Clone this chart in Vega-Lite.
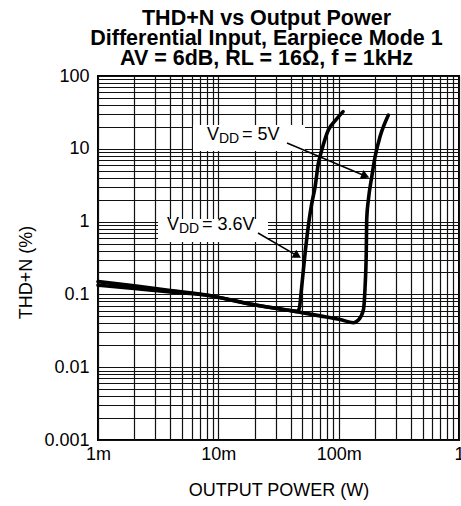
{
  "$schema": "https://vega.github.io/schema/vega-lite/v6.json",
  "width": 361,
  "height": 364,
  "autosize": {"type": "none"},
  "padding": {"left": 98, "top": 76, "right": 2, "bottom": 66},
  "background": "white",
  "title": {
    "text": ["THD+N vs Output Power", "Differential Input, Earpiece Mode 1", "AV = 6dB, RL = 16Ω, f = 1kHz"],
    "font": "Liberation Sans",
    "fontSize": 21.5,
    "fontWeight": "bold",
    "lineHeight": 20,
    "color": "black",
    "anchor": "middle",
    "frame": "group",
    "dx": -12,
    "offset": -2
  },
  "config": {
    "view": {"stroke": "black", "strokeWidth": 2},
    "axis": {
      "labelFont": "Liberation Sans",
      "titleFont": "Liberation Sans",
      "labelFontSize": 18,
      "titleFontSize": 18,
      "titleFontWeight": "normal",
      "labelColor": "black",
      "titleColor": "black",
      "ticks": false,
      "domain": false,
      "grid": true,
      "gridColor": "#111111",
      "gridWidth": 1.2,
      "gridOpacity": 1,
      "labelOverlap": false,
      "labelBound": false,
      "labelFlush": false
    }
  },
  "datasets": {
    "curves": [
      {"series": "3.6V", "ord": 1, "p": 0.001, "thd": 0.134},
      {"series": "3.6V", "ord": 2, "p": 0.002, "thd": 0.121},
      {"series": "3.6V", "ord": 3, "p": 0.004, "thd": 0.108},
      {"series": "3.6V", "ord": 4, "p": 0.00774, "thd": 0.098},
      {"series": "3.6V", "ord": 5, "p": 0.0183, "thd": 0.074},
      {"series": "3.6V", "ord": 6, "p": 0.0395, "thd": 0.060},
      {"series": "3.6V", "ord": 7, "p": 0.0455, "thd": 0.0585},
      {"series": "3.6V", "ord": 8, "p": 0.0471, "thd": 0.0644},
      {"series": "3.6V", "ord": 9, "p": 0.0493, "thd": 0.128},
      {"series": "3.6V", "ord": 10, "p": 0.0526, "thd": 0.367},
      {"series": "3.6V", "ord": 11, "p": 0.0571, "thd": 1.11},
      {"series": "3.6V", "ord": 12, "p": 0.0598, "thd": 1.78},
      {"series": "3.6V", "ord": 13, "p": 0.0637, "thd": 3.0},
      {"series": "3.6V", "ord": 14, "p": 0.0678, "thd": 6.3},
      {"series": "3.6V", "ord": 15, "p": 0.0724, "thd": 9.6},
      {"series": "3.6V", "ord": 16, "p": 0.0821, "thd": 18.1},
      {"series": "3.6V", "ord": 17, "p": 0.094, "thd": 24.5},
      {"series": "3.6V", "ord": 18, "p": 0.1088, "thd": 32.4},
      {"series": "5V", "ord": 1, "p": 0.001, "thd": 0.150},
      {"series": "5V", "ord": 2, "p": 0.002, "thd": 0.131},
      {"series": "5V", "ord": 3, "p": 0.004, "thd": 0.113},
      {"series": "5V", "ord": 4, "p": 0.00774, "thd": 0.099},
      {"series": "5V", "ord": 5, "p": 0.0183, "thd": 0.074},
      {"series": "5V", "ord": 6, "p": 0.0395, "thd": 0.060},
      {"series": "5V", "ord": 7, "p": 0.070, "thd": 0.0507},
      {"series": "5V", "ord": 8, "p": 0.1028, "thd": 0.0452},
      {"series": "5V", "ord": 9, "p": 0.1326, "thd": 0.0408},
      {"series": "5V", "ord": 10, "p": 0.1458, "thd": 0.0445},
      {"series": "5V", "ord": 11, "p": 0.1604, "thd": 0.0611},
      {"series": "5V", "ord": 12, "p": 0.1658, "thd": 0.128},
      {"series": "5V", "ord": 13, "p": 0.1695, "thd": 0.367},
      {"series": "5V", "ord": 14, "p": 0.1712, "thd": 1.11},
      {"series": "5V", "ord": 15, "p": 0.1765, "thd": 1.98},
      {"series": "5V", "ord": 16, "p": 0.1884, "thd": 4.14},
      {"series": "5V", "ord": 17, "p": 0.2007, "thd": 7.78},
      {"series": "5V", "ord": 18, "p": 0.2208, "thd": 14.7},
      {"series": "5V", "ord": 19, "p": 0.259, "thd": 29.1}
    ],
    "boxes": [
      {"id": "5V", "p": 0.006159, "p2": 0.05253, "thd": 21.23, "thd2": 9.33},
      {"id": "3.6V", "p": 0.003152, "p2": 0.02587, "thd": 1.086, "thd2": 0.5246}
    ],
    "arrows": [
      {"id": "5V", "p": 0.03721, "thd": 12.02, "p2": 0.1668, "thd2": 4.23},
      {"id": "3.6V", "p": 0.02137, "thd": 0.6973, "p2": 0.04542, "thd2": 0.339}
    ],
    "labels": [
      {"id": "5V", "p": 0.008049, "thd": 13.21, "main": "V", "sub": "DD", "rest": "= 5V"},
      {"id": "3.6V", "p": 0.003744, "thd": 0.767, "main": "V", "sub": "DD", "rest": "= 3.6V"}
    ]
  },
  "encoding": {
    "x": {
      "field": "p",
      "type": "quantitative",
      "scale": {"type": "log", "domain": [0.001, 1], "nice": false},
      "axis": {
        "title": "OUTPUT POWER (W)",
        "values": [0.001, 0.002, 0.003, 0.004, 0.005, 0.006, 0.007, 0.008, 0.009, 0.01, 0.02, 0.03, 0.04, 0.05, 0.06, 0.07, 0.08, 0.09, 0.1, 0.2, 0.3, 0.4, 0.5, 0.6, 0.7, 0.8, 0.9, 1],
        "labelExpr": "datum.value == 0.001 ? '1m' : datum.value == 0.01 ? '10m' : datum.value == 0.1 ? '100m' : datum.value == 1 ? '1' : ''",
        "labelPadding": 5,
        "titlePadding": 18
      }
    },
    "y": {
      "field": "thd",
      "type": "quantitative",
      "scale": {"type": "log", "domain": [0.001, 100], "nice": false},
      "axis": {
        "title": "THD+N (%)",
        "values": [0.001, 0.002, 0.003, 0.004, 0.005, 0.006, 0.007, 0.008, 0.009, 0.01, 0.02, 0.03, 0.04, 0.05, 0.06, 0.07, 0.08, 0.09, 0.1, 0.2, 0.3, 0.4, 0.5, 0.6, 0.7, 0.8, 0.9, 1, 2, 3, 4, 5, 6, 7, 8, 9, 10, 20, 30, 40, 50, 60, 70, 80, 90, 100],
        "labelExpr": "datum.value == 0.001 ? '0.001' : datum.value == 0.01 ? '0.01' : datum.value == 0.1 ? '0.1' : datum.value == 1 ? '1' : datum.value == 10 ? '10' : datum.value == 100 ? '100' : ''",
        "labelPadding": 9,
        "titlePadding": 8,
        "titleY": 196
      }
    }
  },
  "layer": [
    {
      "data": {"name": "boxes"},
      "mark": {"type": "rect", "fill": "white", "stroke": null},
      "encoding": {"x2": {"field": "p2"}, "y2": {"field": "thd2"}}
    },
    {
      "data": {"name": "curves"},
      "mark": {"type": "line", "color": "black", "strokeWidth": 3.6, "interpolate": "monotone", "strokeCap": "round", "strokeJoin": "round"},
      "encoding": {"detail": {"field": "series"}, "order": {"field": "ord", "type": "quantitative"}}
    },
    {
      "data": {"name": "arrows"},
      "mark": {"type": "rule", "color": "black", "strokeWidth": 1.5},
      "encoding": {"x2": {"field": "p2"}, "y2": {"field": "thd2"}}
    },
    {
      "data": {"name": "arrows"},
      "transform": [{"filter": "datum.id == '5V'"}],
      "mark": {"type": "point", "shape": "triangle-right", "filled": true, "color": "black", "opacity": 1, "size": 90, "angle": 23},
      "encoding": {"x": {"field": "p2", "type": "quantitative"}, "y": {"field": "thd2", "type": "quantitative"}}
    },
    {
      "data": {"name": "arrows"},
      "transform": [{"filter": "datum.id == '3.6V'"}],
      "mark": {"type": "point", "shape": "triangle-right", "filled": true, "color": "black", "opacity": 1, "size": 90, "angle": 30},
      "encoding": {"x": {"field": "p2", "type": "quantitative"}, "y": {"field": "thd2", "type": "quantitative"}}
    },
    {
      "data": {"name": "labels"},
      "mark": {"type": "text", "font": "Liberation Sans", "fontSize": 18, "align": "left", "baseline": "alphabetic", "color": "black"},
      "encoding": {"text": {"field": "main"}}
    },
    {
      "data": {"name": "labels"},
      "mark": {"type": "text", "font": "Liberation Sans", "fontSize": 14, "align": "left", "baseline": "alphabetic", "color": "black", "dx": 12, "dy": 3},
      "encoding": {"text": {"field": "sub"}}
    },
    {
      "data": {"name": "labels"},
      "mark": {"type": "text", "font": "Liberation Sans", "fontSize": 18, "align": "left", "baseline": "alphabetic", "color": "black", "dx": 35},
      "encoding": {"text": {"field": "rest"}}
    }
  ]
}
